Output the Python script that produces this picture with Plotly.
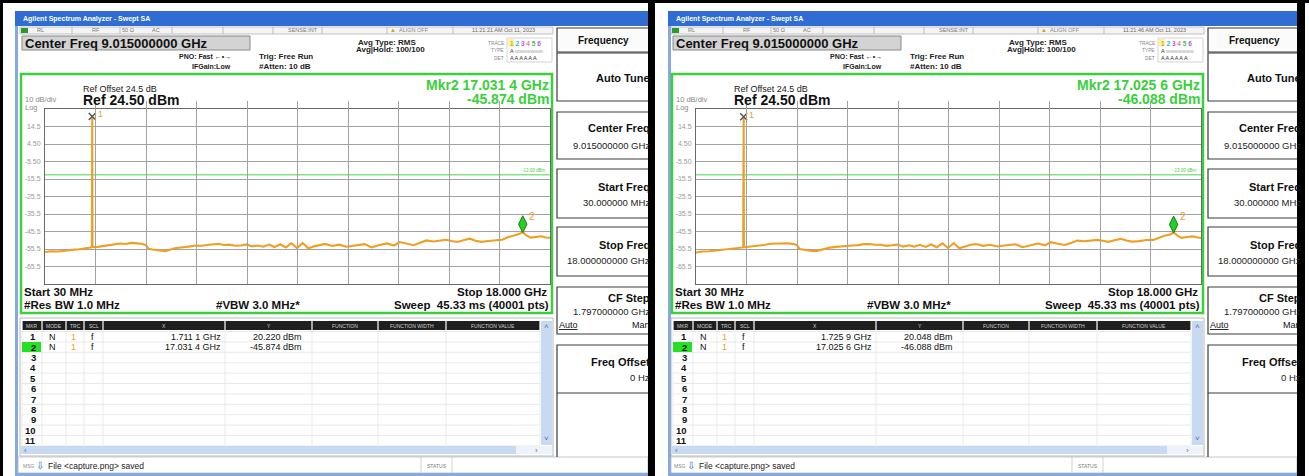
import plotly.graph_objects as go

W, H = 1309, 476
FONT = "Liberation Sans, Arial, sans-serif"

# ---------------- data ----------------
freq_start_ghz = 0.030
freq_stop_ghz = 18.000
ref_level_dbm = 24.50
ref_offset_db = 24.5
db_per_div = 10
num_div = 10
display_line_dbm = -13.00
res_bw_mhz = 1.0
vbw_mhz = 3.0
sweep_ms = 45.33
sweep_pts = 40001
atten_db = 10

y_tick_values = [14.5, 4.5, -5.5, -15.5, -25.5, -35.5, -45.5, -55.5, -65.5]
y_tick_labels = ["14.5", "4.50", "-5.50", "-15.5", "-25.5", "-35.5", "-45.5", "-55.5", "-65.5"]

left_freq_ghz = [0.03, 0.25, 0.5, 0.75, 1.0, 1.25, 1.5, 1.70, 1.7111, 1.72, 1.9, 2.1, 2.3, 2.5, 2.7,
                 2.9, 3.1, 3.3, 3.5, 3.62, 3.72, 3.85, 4.0, 4.15, 4.3, 4.45, 4.6, 4.8, 5.0, 5.2, 5.4,
                 5.6, 5.8, 6.0, 6.2, 6.4, 6.6, 6.8, 7.0, 7.2, 7.4, 7.6, 7.8, 8.0, 8.2, 8.4, 8.6, 8.8,
                 9.0, 9.2, 9.4, 9.6, 9.8, 10.0, 10.25, 10.5, 10.75, 11.0, 11.2, 11.4, 11.65, 11.9,
                 12.2, 12.45, 12.65, 12.9, 13.15, 13.4, 13.6, 13.85, 14.1, 14.3, 14.5, 14.7, 14.95,
                 15.15, 15.35, 15.55, 15.8, 16.05, 16.3, 16.5, 16.7, 16.9, 17.0314, 17.15, 17.3,
                 17.5, 17.7, 17.85, 18.0]
left_level_dbm = [-57.2, -56.8, -56.9, -56.3, -56.0, -55.6, -55.0, -54.5, 20.22, -54.4, -54.3, -53.8,
                  -53.5, -53.0, -52.4, -52.6, -52.0, -52.3, -52.6, -53.3, -55.4, -55.8, -56.0, -56.5,
                  -56.8, -56.0, -55.2, -54.8, -54.2, -54.0, -53.5, -53.6, -53.2, -52.8, -52.5, -53.2,
                  -53.0, -53.6, -53.5, -52.9, -54.0, -53.5, -54.2, -53.0, -54.4, -52.8, -54.6, -52.2,
                  -55.0, -52.0, -55.2, -54.0, -53.2, -52.6, -53.8, -53.0, -54.2, -53.6, -53.0, -52.7,
                  -54.6, -53.3, -52.3, -53.5, -51.5, -52.4, -53.3, -51.8, -50.6, -51.2, -50.7, -50.2,
                  -50.9, -51.5, -50.3, -49.6, -50.8, -51.4, -50.9, -50.5, -50.2, -48.8, -47.8, -47.0,
                  -45.874, -47.6, -49.0, -48.5, -48.2, -48.9, -49.1]

right_freq_ghz = [0.03, 0.25, 0.5, 0.75, 1.0, 1.25, 1.5, 1.71, 1.7259, 1.735, 1.9, 2.1, 2.3, 2.5, 2.7,
                  2.9, 3.1, 3.3, 3.5, 3.62, 3.72, 3.85, 4.0, 4.15, 4.3, 4.45, 4.6, 4.8, 5.0, 5.2, 5.4,
                  5.6, 5.8, 6.0, 6.2, 6.4, 6.6, 6.8, 7.0, 7.2, 7.4, 7.6, 7.8, 8.0, 8.2, 8.4, 8.6, 8.8,
                  9.0, 9.2, 9.4, 9.6, 9.8, 10.0, 10.25, 10.5, 10.75, 11.0, 11.2, 11.4, 11.65, 11.9,
                  12.2, 12.45, 12.65, 12.9, 13.15, 13.4, 13.6, 13.85, 14.1, 14.3, 14.5, 14.7, 14.95,
                  15.15, 15.35, 15.55, 15.8, 16.05, 16.3, 16.5, 16.7, 16.9, 17.0256, 17.15, 17.3,
                  17.5, 17.7, 17.85, 18.0]
right_level_dbm = [-57.5, -56.9, -56.8, -56.4, -56.1, -55.5, -55.1, -54.6, 20.048, -54.5, -54.2, -53.9,
                   -53.4, -53.1, -52.5, -52.4, -52.1, -52.2, -52.7, -53.2, -55.5, -55.9, -56.1, -56.6,
                   -56.7, -56.1, -55.3, -54.7, -54.3, -53.9, -53.6, -53.5, -53.3, -52.7, -52.6, -53.1,
                   -53.1, -53.7, -53.4, -53.0, -54.1, -53.4, -54.1, -53.1, -54.3, -52.9, -54.5, -52.3,
                   -54.9, -52.1, -55.1, -54.1, -53.1, -52.7, -53.7, -53.1, -54.1, -53.5, -53.1, -52.8,
                   -54.5, -53.4, -52.4, -53.4, -51.6, -52.5, -53.2, -51.9, -50.7, -51.1, -50.8, -50.3,
                   -50.8, -51.4, -50.4, -49.7, -50.7, -51.3, -51.0, -50.4, -50.3, -48.9, -47.9, -47.2,
                   -46.088, -47.7, -49.1, -48.6, -48.3, -48.8, -49.2]

left_mkr_freq_ghz = [1.7111, 17.0314]
left_mkr_level_dbm = [20.220, -45.874]
right_mkr_freq_ghz = [1.7259, 17.0256]
right_mkr_level_dbm = [20.048, -46.088]

left_timestamp = "11:21:21 AM Oct 11, 2023"
right_timestamp = "11:21:46 AM Oct 11, 2023"

table_header = ["MKR", "MODE", "TRC", "SCL", "X", "Y", "FUNCTION", "FUNCTION WIDTH", "FUNCTION VALUE"]
table_rows = list(range(1, 12))

# ---------------- helpers ----------------
TRACE_COLOR = "#EF9F22"
GREEN = "#3ccf3c"

shapes = []
annotations = []


def X(px):
    return px / W


def Y(py):
    return 1 - py / H


def rect(x0, y0, x1, y1, fill=None, line=None, lw=1.0, layer="below"):
    shapes.append(dict(type="rect", xref="paper", yref="paper", x0=X(x0), x1=X(x1),
                       y0=Y(y1), y1=Y(y0), layer=layer,
                       fillcolor=fill if fill else "rgba(0,0,0,0)",
                       line=dict(color=line if line else "rgba(0,0,0,0)", width=lw if line else 0)))


def seg(x0, y0, x1, y1, color, w=1.0):
    shapes.append(dict(type="line", xref="paper", yref="paper", x0=X(x0), x1=X(x1),
                       y0=Y(y0), y1=Y(y1), layer="below", line=dict(color=color, width=w)))


def txt(x, y, s, size=8, color="#000", bold=False, anchor="left"):
    if bold:
        s = "<b>" + s + "</b>"
    annotations.append(dict(xref="paper", yref="paper", x=X(x), y=Y(y), text=s, showarrow=False,
                            xanchor=anchor, yanchor="middle", borderpad=0,
                            font=dict(size=size, color=color, family=FONT)))


def fmt_ghz(v):
    s = f"{v:.4f}"
    return s[:-1] + " " + s[-1] + " GHz"


center_ghz = (freq_start_ghz + freq_stop_ghz) / 2
span_ghz = freq_stop_ghz - freq_start_ghz
cf_step_ghz = span_ghz / num_div
y_bottom = ref_level_dbm - db_per_div * num_div

GRID_T, GRID_B = 109, 284
SHIFT = 8  # marker diamond sits above its point


def panel(ox, pl, pr, xa, ya, freq, level, mkr_f, mkr_l, stamp):
    # window
    rect(pl, 11, pr, 476, fill="white")
    rect(pl, 26, pl + 3, 476, fill="#86aade")
    rect(pl, 11, pr, 26, fill="#2f6dd4")
    txt(pl + 7, 19, "Agilent Spectrum Analyzer - Swept SA", 7, "white", True)
    # status row
    rect(ox + 20, 27, ox + 553, 34, fill="#f4f4f4", line="#b4b4b4", lw=0.8)
    for s in [72, 120, 172, 223, 273, 322, 387, 453]:
        seg(ox + s, 27, ox + s, 34, "#b4b4b4", 0.8)
    rect(ox + 21, 28, ox + 28, 33, fill="#2a9a2a")
    txt(ox + 36, 30.5, "RL", 5.5, "#777")
    txt(ox + 96, 30.5, "RF", 5.5, "#777", anchor="center")
    txt(ox + 128, 30.5, "50 Ω", 5.5, "#777", anchor="center")
    txt(ox + 156, 30.5, "AC", 5.5, "#777", anchor="center")
    txt(ox + 303, 30.5, "SENSE:INT", 5.5, "#777", anchor="center")
    txt(ox + 393, 30.5, "▲", 6, "#d9a400", anchor="center")
    txt(ox + 398, 30.5, "ALIGN OFF", 5.5, "#888")
    txt(ox + 503, 30.5, stamp, 5.5, "#666", anchor="center")
    # center freq box
    rect(ox + 22, 36, ox + 250, 50, fill="#d3d3d3", line="#8a8a8a", lw=1)
    txt(ox + 24, 43.5, f"Center Freq {center_ghz:.9f} GHz", 13, "#111", True)
    txt(ox + 232, 56.5, "PNO: Fast ←•→", 7, "#222", True, anchor="right")
    txt(ox + 232, 66.5, "IFGain:Low", 7, "#222", True, anchor="right")
    txt(ox + 258, 56.5, "Trig: Free Run", 8, "#222", True)
    txt(ox + 258, 66.5, f"#Atten: {atten_db} dB", 8, "#222", True)
    txt(ox + 357, 42, "Avg Type: RMS", 8, "#222", True)
    txt(ox + 355, 50, "Avg|Hold: 100/100", 8, "#222", True)
    # trace block
    rect(ox + 507, 38, ox + 552, 62, line="#c8c8c8", lw=0.8)
    rect(ox + 508, 39, ox + 514, 46.5, fill="#fff2a0")
    txt(ox + 505, 43, "TRACE", 4.8, "#888", anchor="right")
    txt(ox + 505, 51, "TYPE", 4.8, "#888", anchor="right")
    txt(ox + 505, 58, "DET", 4.8, "#888", anchor="right")
    nums = ('<span style="color:#e2a400">1</span> <span style="color:#29b6e6">2</span> '
            '<span style="color:#e048d8">3</span> <span style="color:#e07ab0">4</span> '
            '<span style="color:#45c245">5</span> <span style="color:#b05ce0">6</span>')
    txt(ox + 509, 43, nums, 6.5, "#000", True)
    txt(ox + 509, 51, 'A <span style="color:#aaa">wwwwwww</span>', 5.5, "#333")
    txt(ox + 509, 58, "A A A A A A", 5.5, "#333")
    # green frame
    rect(ox + 21, 74, ox + 552, 313, fill="white", line=GREEN, lw=2.5)
    txt(ox + 82, 89, f"Ref Offset {ref_offset_db} dB", 9, "#222")
    txt(ox + 82, 100, f"Ref {ref_level_dbm:.2f} dBm", 14, "#111", True)
    txt(ox + 24, 99.5, f"{db_per_div} dB/div", 7.5, "#8a8a8a")
    txt(ox + 24, 108, "Log", 7.5, "#8a8a8a")
    txt(ox + 550, 85, f"Mkr2 {fmt_ghz(mkr_f[1])}", 14, GREEN, True, anchor="right")
    txt(ox + 550, 99, f"{mkr_l[1]:.3f} dBm", 14, GREEN, True, anchor="right")
    txt(ox + 23, 292, f"Start {freq_start_ghz * 1000:.0f} MHz", 11.5, "#111", True)
    txt(ox + 23, 304.5, f"#Res BW {res_bw_mhz:.1f} MHz", 11.5, "#111", True)
    txt(ox + 215, 304.5, f"#VBW {vbw_mhz:.1f} MHz*", 11.5, "#111", True)
    txt(ox + 548, 292, f"Stop {freq_stop_ghz:.3f} GHz", 11.5, "#111", True, anchor="right")
    txt(ox + 550, 304.5, f"Sweep  {sweep_ms:.2f} ms ({sweep_pts} pts)", 11.5, "#111", True,
        anchor="right")
    # marker table
    rect(ox + 20, 318, ox + 553, 456, fill="white", line="#a8a8a8", lw=0.8)
    cols = [22, 42, 66, 84, 103, 225, 312, 378, 446, 540]
    for i, name in enumerate(table_header):
        c0, c1 = cols[i], cols[i + 1]
        rect(ox + c0 + 0.6, 321, ox + c1 - 0.6, 330, fill="#1f1f1f")
        txt(ox + (c0 + c1) / 2, 325.5, name, 5, "#cfcfcf", anchor="center")
    for i in range(12):
        y = 331.5 + i * 10.4
        seg(ox + 22, y, ox + 540, y, "#e3e3e3", 0.8)
    for c in cols:
        seg(ox + c, 331, ox + c, 445, "#e6e6e6", 0.8)
    rect(ox + 22, 342, ox + 41, 352, fill="#25e025")
    for r in table_rows:
        txt(ox + 37, 336.7 + (r - 1) * 10.4, str(r), 9.5, "#111", True, anchor="right")
    for k in range(2):
        yy = 336.7 + k * 10.4
        txt(ox + 52, yy, "N", 9, "#111", anchor="center")
        txt(ox + 73, yy, "1", 9, "#f0a020", anchor="center")
        txt(ox + 92, yy, "f", 9, "#111", anchor="center")
        txt(ox + 222, yy, fmt_ghz(mkr_f[k]), 9, "#111", anchor="right")
        txt(ox + 303, yy, f"{mkr_l[k]:.3f} dBm", 9, "#111", anchor="right")
    rect(ox + 541, 321, ox + 552, 445, fill="#c8daf1")
    txt(ox + 546.5, 326, "˄", 8, "#4a6fa8", anchor="center")
    txt(ox + 546.5, 438, "˅", 8, "#4a6fa8", anchor="center")
    rect(ox + 21, 446, ox + 516, 454, fill="#c8daf1")
    rect(ox + 516, 446, ox + 552, 454, fill="#eef3fa")
    txt(ox + 25, 450, "‹", 8, "#4a6fa8", anchor="center")
    txt(ox + 536, 450, "›", 8, "#4a6fa8", anchor="center")
    # message bar
    rect(pl + 3, 457, pr, 473, fill="white", line="#b8b8b8", lw=0.8)
    seg(ox + 421, 457, ox + 421, 473, "#c8c8c8", 0.8)
    seg(ox + 452, 457, ox + 452, 473, "#c8c8c8", 0.8)
    txt(ox + 22, 465.5, "MSG", 5, "#888")
    txt(ox + 40, 465, "⇩", 10, "#2a70d8", anchor="center")
    txt(ox + 47, 465.5, "File &lt;capture.png&gt; saved", 8.5, "#222")
    txt(ox + 436.5, 465.5, "STATUS", 5, "#777", anchor="center")
    rect(pl, 473, pr, 476, fill="#86aade")
    # soft-key menu
    rect(ox + 557, 28, ox + 652, 52, fill="#fbfbfb", line="#3a3a3a", lw=1.2)
    txt(ox + 603, 40, "Frequency", 10, "#111", True, anchor="center")
    menu = [("Auto Tune", None, 53, 101, 25, 0),
            ("Center Freq", f"{center_ghz:.9f} GHz", 112, 159, 16, 33),
            ("Start Freq", f"{freq_start_ghz * 1000:.6f} MHz", 169, 218, 18, 33),
            ("Stop Freq", f"{freq_stop_ghz:.9f} GHz", 227, 276, 18, 33),
            ("CF Step", f"{cf_step_ghz:.9f} GHz", 287, 334, 11, 24),
            ("Freq Offset", "0 Hz", 345, 393, 17, 32)]
    for title, val, t, b, dt, dv in menu:
        rect(ox + 557, t, ox + 652, b, fill="white", line="#3a3a3a", lw=1.2)
        txt(ox + 651, t + dt, title, 11, "#111", True, anchor="right")
        if val:
            txt(ox + 651, t + dv, val, 9.5, "#222", anchor="right")
    txt(ox + 558, 325, '<span style="text-decoration:underline">Auto</span>', 9, "#111")
    txt(ox + 651, 325, "Man", 9, "#111", anchor="right")
    seg(ox + 557, 393, ox + 557, 457, "#3a3a3a", 1.2)

    # display line
    shapes.append(dict(type="line", xref=xa, yref=ya, x0=freq_start_ghz, x1=freq_stop_ghz,
                       y0=display_line_dbm, y1=display_line_dbm, layer="between",
                       line=dict(color="#86e486", width=1.5)))
    annotations.append(dict(xref=xa, yref=ya, x=freq_stop_ghz, y=display_line_dbm,
                            text=f"{display_line_dbm:.2f} dBm", showarrow=False, xanchor="right",
                            yanchor="bottom", xshift=-2, font=dict(size=4.5, color="#50c850",
                                                                   family=FONT)))
    # marker labels
    annotations.append(dict(xref=xa, yref=ya, x=mkr_f[0], y=mkr_l[0], text="1", showarrow=False,
                            xshift=8, yshift=2, font=dict(size=9, color="#f0a020", family=FONT)))
    annotations.append(dict(xref=xa, yref=ya, x=mkr_f[1], y=mkr_l[1], text="2", showarrow=False,
                            xshift=9, yshift=16, font=dict(size=10, color="#f0a020", family=FONT)))


panel(0, 15, 648, "x", "y", left_freq_ghz, left_level_dbm, left_mkr_freq_ghz,
      left_mkr_level_dbm, left_timestamp)
panel(651, 668, 1297, "x2", "y2", right_freq_ghz, right_level_dbm, right_mkr_freq_ghz,
      right_mkr_level_dbm, right_timestamp)

# outer black frame pieces
rect(0, 0, W, 3, fill="black")
rect(0, 0, 3, H, fill="black")
rect(648, 0, 655, H, fill="black")
rect(1297, 0, 1305, H, fill="black")

fig = go.Figure()
for xa, ya, yup, fr, lv, mf, ml in [("x", "y", "y3", left_freq_ghz, left_level_dbm,
                                      left_mkr_freq_ghz, left_mkr_level_dbm),
                                     ("x2", "y2", "y4", right_freq_ghz, right_level_dbm,
                                      right_mkr_freq_ghz, right_mkr_level_dbm)]:
    fig.add_trace(go.Scatter(x=fr, y=lv, xaxis=xa, yaxis=ya, mode="lines",
                             line=dict(color=TRACE_COLOR, width=2.1), hoverinfo="skip"))
    fig.add_trace(go.Scatter(x=[mf[0]], y=[ml[0]], xaxis=xa, yaxis=ya, mode="markers",
                             marker=dict(symbol="x-thin", size=7, line=dict(width=1.4, color="#555")),
                             cliponaxis=False, hoverinfo="skip"))
    fig.add_trace(go.Scatter(x=[mf[1]], y=[ml[1]], xaxis=xa, yaxis=yup, mode="markers",
                             marker=dict(symbol="diamond-tall", size=12, color="#24d024",
                                         line=dict(width=1, color="#127a12")),
                             cliponaxis=False, hoverinfo="skip"))

xcommon = dict(range=[freq_start_ghz, freq_stop_ghz], tickmode="linear", tick0=freq_start_ghz,
               dtick=span_ghz / num_div, showticklabels=False, ticks="", showgrid=True,
               gridcolor="#a2a2a2", gridwidth=1, zeroline=False, showline=True, mirror=True,
               linecolor="#6a6a6a", linewidth=1, fixedrange=True)
ycommon = dict(range=[y_bottom, ref_level_dbm], tickmode="array", tickvals=y_tick_values,
               ticktext=y_tick_labels, tickfont=dict(size=7, color="#9a9a9a", family=FONT),
               ticks="", ticklabelstandoff=2, showgrid=True, gridcolor="#a2a2a2", gridwidth=1,
               zeroline=False, showline=True, mirror=True, linecolor="#6a6a6a", linewidth=1,
               fixedrange=True)
ydom = [Y(GRID_B), Y(GRID_T)]
ydom_up = [Y(GRID_B) + SHIFT / H, Y(GRID_T) + SHIFT / H]
hidden = dict(range=[y_bottom, ref_level_dbm], visible=False, fixedrange=True)

fig.update_layout(
    width=W, height=H, autosize=False, margin=dict(l=0, r=0, t=0, b=0),
    paper_bgcolor="white", plot_bgcolor="rgba(0,0,0,0)", showlegend=False,
    xaxis=dict(domain=[X(45), X(550)], anchor="y", **xcommon),
    yaxis=dict(domain=ydom, anchor="x", **ycommon),
    xaxis2=dict(domain=[X(696), X(1201)], anchor="y2", **xcommon),
    yaxis2=dict(domain=ydom, anchor="x2", **ycommon),
    yaxis3=dict(domain=ydom_up, anchor="x", **hidden),
    yaxis4=dict(domain=ydom_up, anchor="x2", **hidden),
    shapes=shapes, annotations=annotations,
)

fig.write_html("out.html", config={"displayModeBar": False},
               post_script="document.body.style.margin='0';")
